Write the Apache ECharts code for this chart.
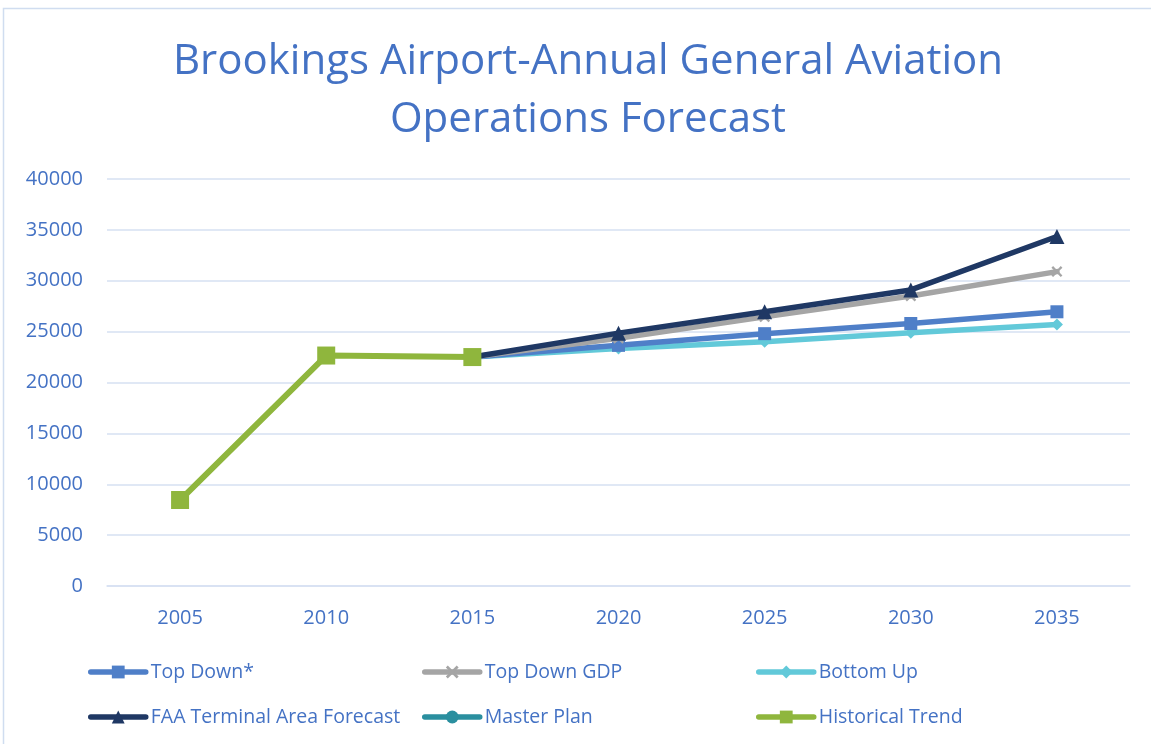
<!DOCTYPE html>
<html><head><meta charset="utf-8">
<script src="https://cdn.jsdelivr.net/npm/echarts@6/dist/echarts.min.js"></script>
<style>html,body{margin:0;padding:0;background:#fff}#c{width:1151px;height:744px}</style>
</head><body><div id="c"></div>
<script>
const years = ['2005','2010','2015','2020','2025','2030','2035'];
const topDown      = ['-','-',22500,23650,24800,25800,26950];
const topDownGDP   = ['-','-',22500,24350,26450,28500,30900];
const bottomUp     = ['-','-',22500,23350,24000,24880,25700];
const faaTAF       = ['-','-',22500,24850,26950,29100,34350];
const masterPlan   = ['-','-','-','-','-','-','-'];
const historical   = [8450,22650,22500,'-','-','-','-'];
const yTicks = [0,5000,10000,15000,20000,25000,30000,35000,40000];

const blue = '#4472C4';
const xPath = 'path://M0,1.5L1.5,0L5,3.5L8.5,0L10,1.5L6.5,5L10,8.5L8.5,10L5,6.5L1.5,10L0,8.5L3.5,5Z';
function s(name, data, color, symbol, size, width){
  return {name, type:'line', data, symbol, symbolSize:size, showSymbol:true,
    lineStyle:{color, width, cap:'round', join:'round'}, itemStyle:{color}, connectNulls:false, animation:false};
}
const series = [
  s('Top Down*', topDown, '#4F7FC8', 'rect', 13, 5.5),
  s('Top Down GDP', topDownGDP, '#A5A5A5', xPath, 11, 5.5),
  s('Bottom Up', bottomUp, '#62C9D9', 'diamond', 12, 5.5),
  s('FAA Terminal Area Forecast', faaTAF, '#1F3864', 'triangle', 15, 5.5),
  s('Master Plan', masterPlan, '#2A8F9F', 'circle', 11, 5.5),
  s('Historical Trend', historical, '#8FB63D', 'rect', 18, 6)
];
series[0].z = 3; series[2].z = 2; series[1].z = 4; series[3].z = 5; series[5].z = 6;

const legendPos = [[88,662],[422,662],[756,662],[88,707],[422,707],[756,707]];
const legends = series.map((se,i)=>({
  data:[se.name], left:legendPos[i][0], top:legendPos[i][1], itemWidth:55, itemHeight:16, itemGap:0, padding:0,
  lineStyle:{width:5.5, cap:'round'},
  textStyle:{color:blue, fontSize:19.5, fontFamily:'Open Sans'}, selectedMode:false
}));

const chart = echarts.init(document.getElementById('c'));
chart.setOption({
  animation:false,
  title:{text:'Brookings Airport-Annual General Aviation\nOperations Forecast', left:583, textAlign:'center', top:28,
    textStyle:{color:blue, fontSize:42, fontWeight:'normal', fontFamily:'Open Sans', lineHeight:58}},
  graphic:[{type:'rect', shape:{x:3.5,y:8.5,width:1200,height:800}, style:{fill:'none', stroke:'#D0DDF0', lineWidth:1.5}, silent:true}],
  legend:legends,
  grid:{left:107, right:21, top:179, bottom:158},
  xAxis:{type:'category', data:years, boundaryGap:true,
    axisLine:{show:true, lineStyle:{color:'#D6E0F2', width:1.5}}, axisTick:{show:false},
    axisLabel:{color:blue, fontSize:20, fontFamily:'Open Sans', margin:22}},
  yAxis:{type:'value', min:0, max:40000, interval:5000,
    axisLine:{show:false}, axisTick:{show:false},
    splitLine:{lineStyle:{color:'#D6E0F2', width:1.5}},
    axisLabel:{color:blue, fontSize:20, fontFamily:'Open Sans', margin:24,
      formatter:v=>yTicks.includes(v)?String(v):''}},
  series
});
</script></body></html>
